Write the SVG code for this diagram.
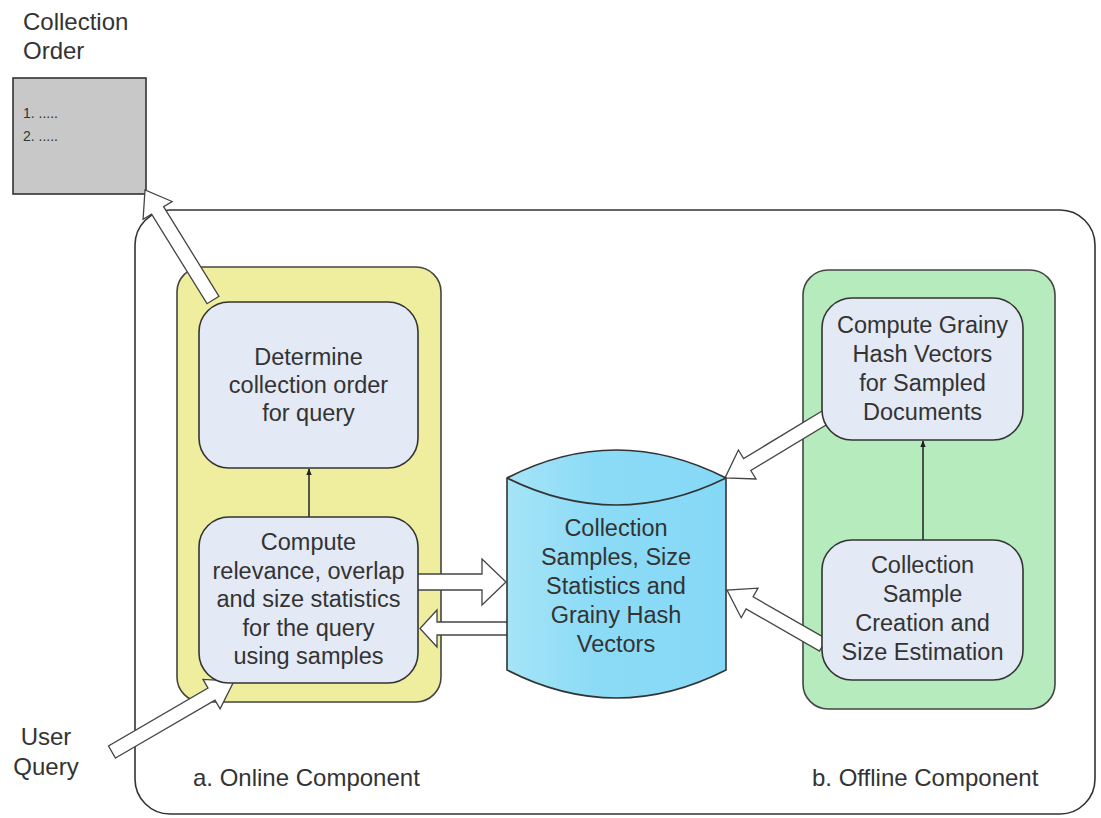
<svg xmlns="http://www.w3.org/2000/svg" width="1101" height="818" viewBox="0 0 1101 818">
<style>
text{font-family:"Liberation Sans",Arial,sans-serif;fill:#333}
.bt{font-size:23.5px;text-anchor:middle}
.lb{font-size:24px}
.box{fill:#e3e9f5;stroke:#333;stroke-width:1.6}
.ba{fill:#fff;stroke:#444;stroke-width:1.3;stroke-linejoin:miter}
.ln{stroke:#222;stroke-width:1.5;fill:none}
</style>
<defs>
<marker id="ah" viewBox="0 0 10 10" refX="9" refY="5" markerWidth="7" markerHeight="7" orient="auto" markerUnits="userSpaceOnUse"><path d="M0,1 L10,5 L0,9 z" fill="#222"/></marker>
<linearGradient id="cyl" x1="0" y1="0" x2="1" y2="0"><stop offset="0" stop-color="#a6e4f7"/><stop offset="0.4" stop-color="#8cdbf6"/><stop offset="1" stop-color="#86d9f6"/></linearGradient>
</defs>
<rect x="0" y="0" width="1101" height="818" fill="#fff"/>
<g id="outer"><rect x="135" y="210" width="960" height="604" rx="35" ry="35" fill="#fff" stroke="#333" stroke-width="1.6"/></g>
<g id="collection-order">
<text class="lb" x="23" y="30">Collection</text>
<text class="lb" x="23" y="59">Order</text>
<rect x="13" y="78" width="133" height="116" fill="#c8c8c8" stroke="#333" stroke-width="1.6"/>
<text x="23" y="118" style="font-size:14px">1. .....</text>
<text x="23" y="141" style="font-size:14px">2. .....</text>
</g>
<g id="online-group"><rect x="177" y="267" width="264" height="435" rx="25" ry="25" fill="#eeee9e" stroke="#444" stroke-width="1.6"/></g>
<g id="offline-group"><rect x="803" y="270" width="252" height="439" rx="25" ry="25" fill="#b5ebbd" stroke="#444" stroke-width="1.6"/></g>
<g id="connectors">
<polygon class="ba" points="219,296.3 163.6,206.7 172.1,201.5 145,190 143.1,219.3 151.6,214.1 207,303.7"/>
<polygon class="ba" points="412,574 482,574 482,559 506,582 482,605 482,590 412,590"/>
<polygon class="ba" points="510,622 437,622 437,610 420,628.5 437,647 437,635 510,635"/>
<polygon class="ba" points="825.4,409 743.6,458.5 738.4,450 725,478 756,479 750.8,470.5 832.6,421"/>
<polygon class="ba" points="826.5,638.9 753.1,596.8 758,588.1 727,590 741.2,617.7 746.1,609 819.5,651.1"/>
<polygon class="ba" points="115.5,758 215,700.2 220.1,708.8 234,681 203,679.4 208,688.1 108.5,746"/>
<line class="ln" x1="309" y1="517" x2="309" y2="469" marker-end="url(#ah)"/>
<line class="ln" x1="923" y1="540" x2="923" y2="441" marker-end="url(#ah)"/>
</g>
<g id="determine">
<rect class="box" x="199" y="302" width="219" height="166" rx="30" ry="30"/>
<text class="bt" x="308.5" y="365">Determine</text>
<text class="bt" x="308.5" y="393">collection order</text>
<text class="bt" x="308.5" y="421">for query</text>
</g>
<g id="compute-relevance">
<rect class="box" x="199" y="517" width="219" height="166" rx="30" ry="30"/>
<text class="bt" x="308.5" y="550">Compute</text>
<text class="bt" x="308.5" y="578.5">relevance, overlap</text>
<text class="bt" x="308.5" y="607">and size statistics</text>
<text class="bt" x="308.5" y="635.5">for the query</text>
<text class="bt" x="308.5" y="664">using samples</text>
</g>
<g id="database">
<path d="M507,478 Q616,422 726,478 L726,670 Q616,726 507,670 Z" fill="url(#cyl)" stroke="#333" stroke-width="1.6"/>
<path d="M507,478 Q616,532 726,478" fill="none" stroke="#333" stroke-width="1.6"/>
<text class="bt" x="616" y="536">Collection</text>
<text class="bt" x="616" y="565">Samples, Size</text>
<text class="bt" x="616" y="594">Statistics and</text>
<text class="bt" x="616" y="623">Grainy Hash</text>
<text class="bt" x="616" y="652">Vectors</text>
</g>
<g id="grainy">
<rect class="box" x="822" y="298" width="201" height="142" rx="30" ry="30"/>
<text class="bt" x="922.5" y="333">Compute Grainy</text>
<text class="bt" x="922.5" y="362">Hash Vectors</text>
<text class="bt" x="922.5" y="391">for Sampled</text>
<text class="bt" x="922.5" y="420">Documents</text>
</g>
<g id="sample-creation">
<rect class="box" x="822" y="540" width="201" height="140" rx="30" ry="30"/>
<text class="bt" x="922.5" y="573">Collection</text>
<text class="bt" x="922.5" y="602">Sample</text>
<text class="bt" x="922.5" y="631">Creation and</text>
<text class="bt" x="922.5" y="660">Size Estimation</text>
</g>
<g id="labels">
<text class="lb" x="46" y="745" text-anchor="middle">User</text>
<text class="lb" x="46" y="775" text-anchor="middle">Query</text>
<text class="lb" x="193" y="786">a. Online Component</text>
<text class="lb" x="812" y="786">b. Offline Component</text>
</g>
</svg>
